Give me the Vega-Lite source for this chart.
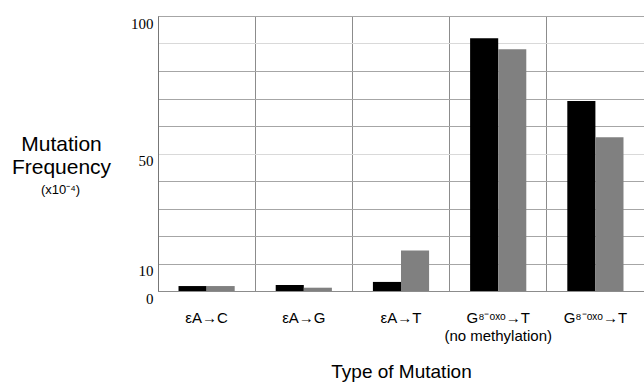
{
  "$schema": "https://vega.github.io/schema/vega-lite/v6.json",
  "width": 486,
  "height": 275,
  "autosize": {"type": "none"},
  "padding": {"left": 158, "top": 16, "right": 0, "bottom": 100},
  "background": "white",
  "config": {
    "view": {"stroke": "#8c8c8c", "strokeWidth": 1},
    "legend": {"disable": true}
  },
  "data": {
    "values": [
      {"type": "εA→C", "series": "Series 1", "value": 1.8},
      {"type": "εA→C", "series": "Series 2", "value": 1.8},
      {"type": "εA→G", "series": "Series 1", "value": 2.2},
      {"type": "εA→G", "series": "Series 2", "value": 1.2},
      {"type": "εA→T", "series": "Series 1", "value": 3.3},
      {"type": "εA→T", "series": "Series 2", "value": 14.7},
      {"type": "G⁸⁻ᵒˣᵒ→T (no methylation)", "series": "Series 1", "value": 91.9},
      {"type": "G⁸⁻ᵒˣᵒ→T (no methylation)", "series": "Series 2", "value": 87.9},
      {"type": "G⁸⁻ᵒˣᵒ→T", "series": "Series 1", "value": 69.1},
      {"type": "G⁸⁻ᵒˣᵒ→T", "series": "Series 2", "value": 55.9}
    ]
  },
  "encoding": {
    "x": {
      "field": "type",
      "type": "nominal",
      "sort": null,
      "scale": {"paddingInner": 0, "paddingOuter": 0},
      "axis": {
        "title": "Type of Mutation",
        "titleFont": "Liberation Sans",
        "titleFontSize": 19,
        "titleFontWeight": "normal",
        "titleColor": "black",
        "titleBaseline": "top",
        "titleY": 71,
        "labelAngle": 0,
        "labelFont": "Liberation Sans",
        "labelFontSize": 15,
        "labelColor": "black",
        "labelPadding": 19,
        "labelBaseline": "top",
        "labelLineHeight": 18,
        "labelExpr": "indexof(datum.label, ' (') > 0 ? [slice(datum.label, 0, indexof(datum.label, ' (')), slice(datum.label, indexof(datum.label, ' (') + 1)] : datum.label",
        "ticks": false,
        "tickSize": 0,
        "domainColor": "#8c8c8c",
        "grid": true,
        "gridColor": "#8c8c8c",
        "bandPosition": 0
      }
    },
    "xOffset": {
      "field": "series",
      "type": "nominal",
      "scale": {"paddingInner": 0, "paddingOuter": 0.73}
    },
    "y": {
      "field": "value",
      "type": "quantitative",
      "scale": {"domain": [0, 100], "nice": false}
    },
    "color": {
      "field": "series",
      "type": "nominal",
      "scale": {"domain": ["Series 1", "Series 2"], "range": ["#000000", "#808080"]},
      "legend": null
    }
  },
  "layer": [
    {
      "transform": [{"filter": "datum.series == 'Series 1'"}],
      "mark": {"type": "bar"},
      "encoding": {
        "y": {
          "field": "value",
          "type": "quantitative",
          "scale": {"domain": [0, 100], "nice": false},
          "axis": {
            "orient": "left",
            "values": [0, 10, 20, 30, 40, 50, 60, 70, 80, 90, 100],
            "labelExpr": "datum.value == 0 || datum.value == 10 || datum.value == 50 || datum.value == 100 ? datum.label : ''",
            "labelFont": "Liberation Serif",
            "labelFontSize": 15,
            "labelColor": "black",
            "labelBaseline": "top",
            "labelOffset": 0,
            "labelPadding": 5,
            "ticks": false,
            "tickSize": 0,
            "domainColor": "#777777",
            "grid": true,
            "gridColor": {"condition": {"test": "datum.value == 50 || datum.value == 90", "value": "#d9d9d9"}, "value": "#a6a6a6"},
            "title": ["Mutation", "Frequency"],
            "titleAngle": 0,
            "titleFont": "Liberation Sans",
            "titleFontSize": 21,
            "titleFontWeight": "normal",
            "titleColor": "black",
            "titleAlign": "center",
            "titleBaseline": "alphabetic",
            "titleLineHeight": 23,
            "titleX": -97,
            "titleY": 134
          }
        }
      }
    },
    {
      "transform": [{"filter": "datum.series == 'Series 2'"}],
      "mark": {"type": "bar"},
      "encoding": {
        "y": {
          "field": "value",
          "type": "quantitative",
          "scale": {"domain": [0, 100], "nice": false},
          "axis": {
            "orient": "left",
            "offset": 0,
            "domain": false,
            "labels": false,
            "ticks": false,
            "grid": false,
            "title": "(x10⁻⁴)",
            "titleAngle": 0,
            "titleFont": "Liberation Sans",
            "titleFontSize": 13,
            "titleFontWeight": "normal",
            "titleColor": "black",
            "titleAlign": "center",
            "titleBaseline": "alphabetic",
            "titleX": -98,
            "titleY": 177
          }
        }
      }
    }
  ],
  "resolve": {"axis": {"y": "independent"}}
}
